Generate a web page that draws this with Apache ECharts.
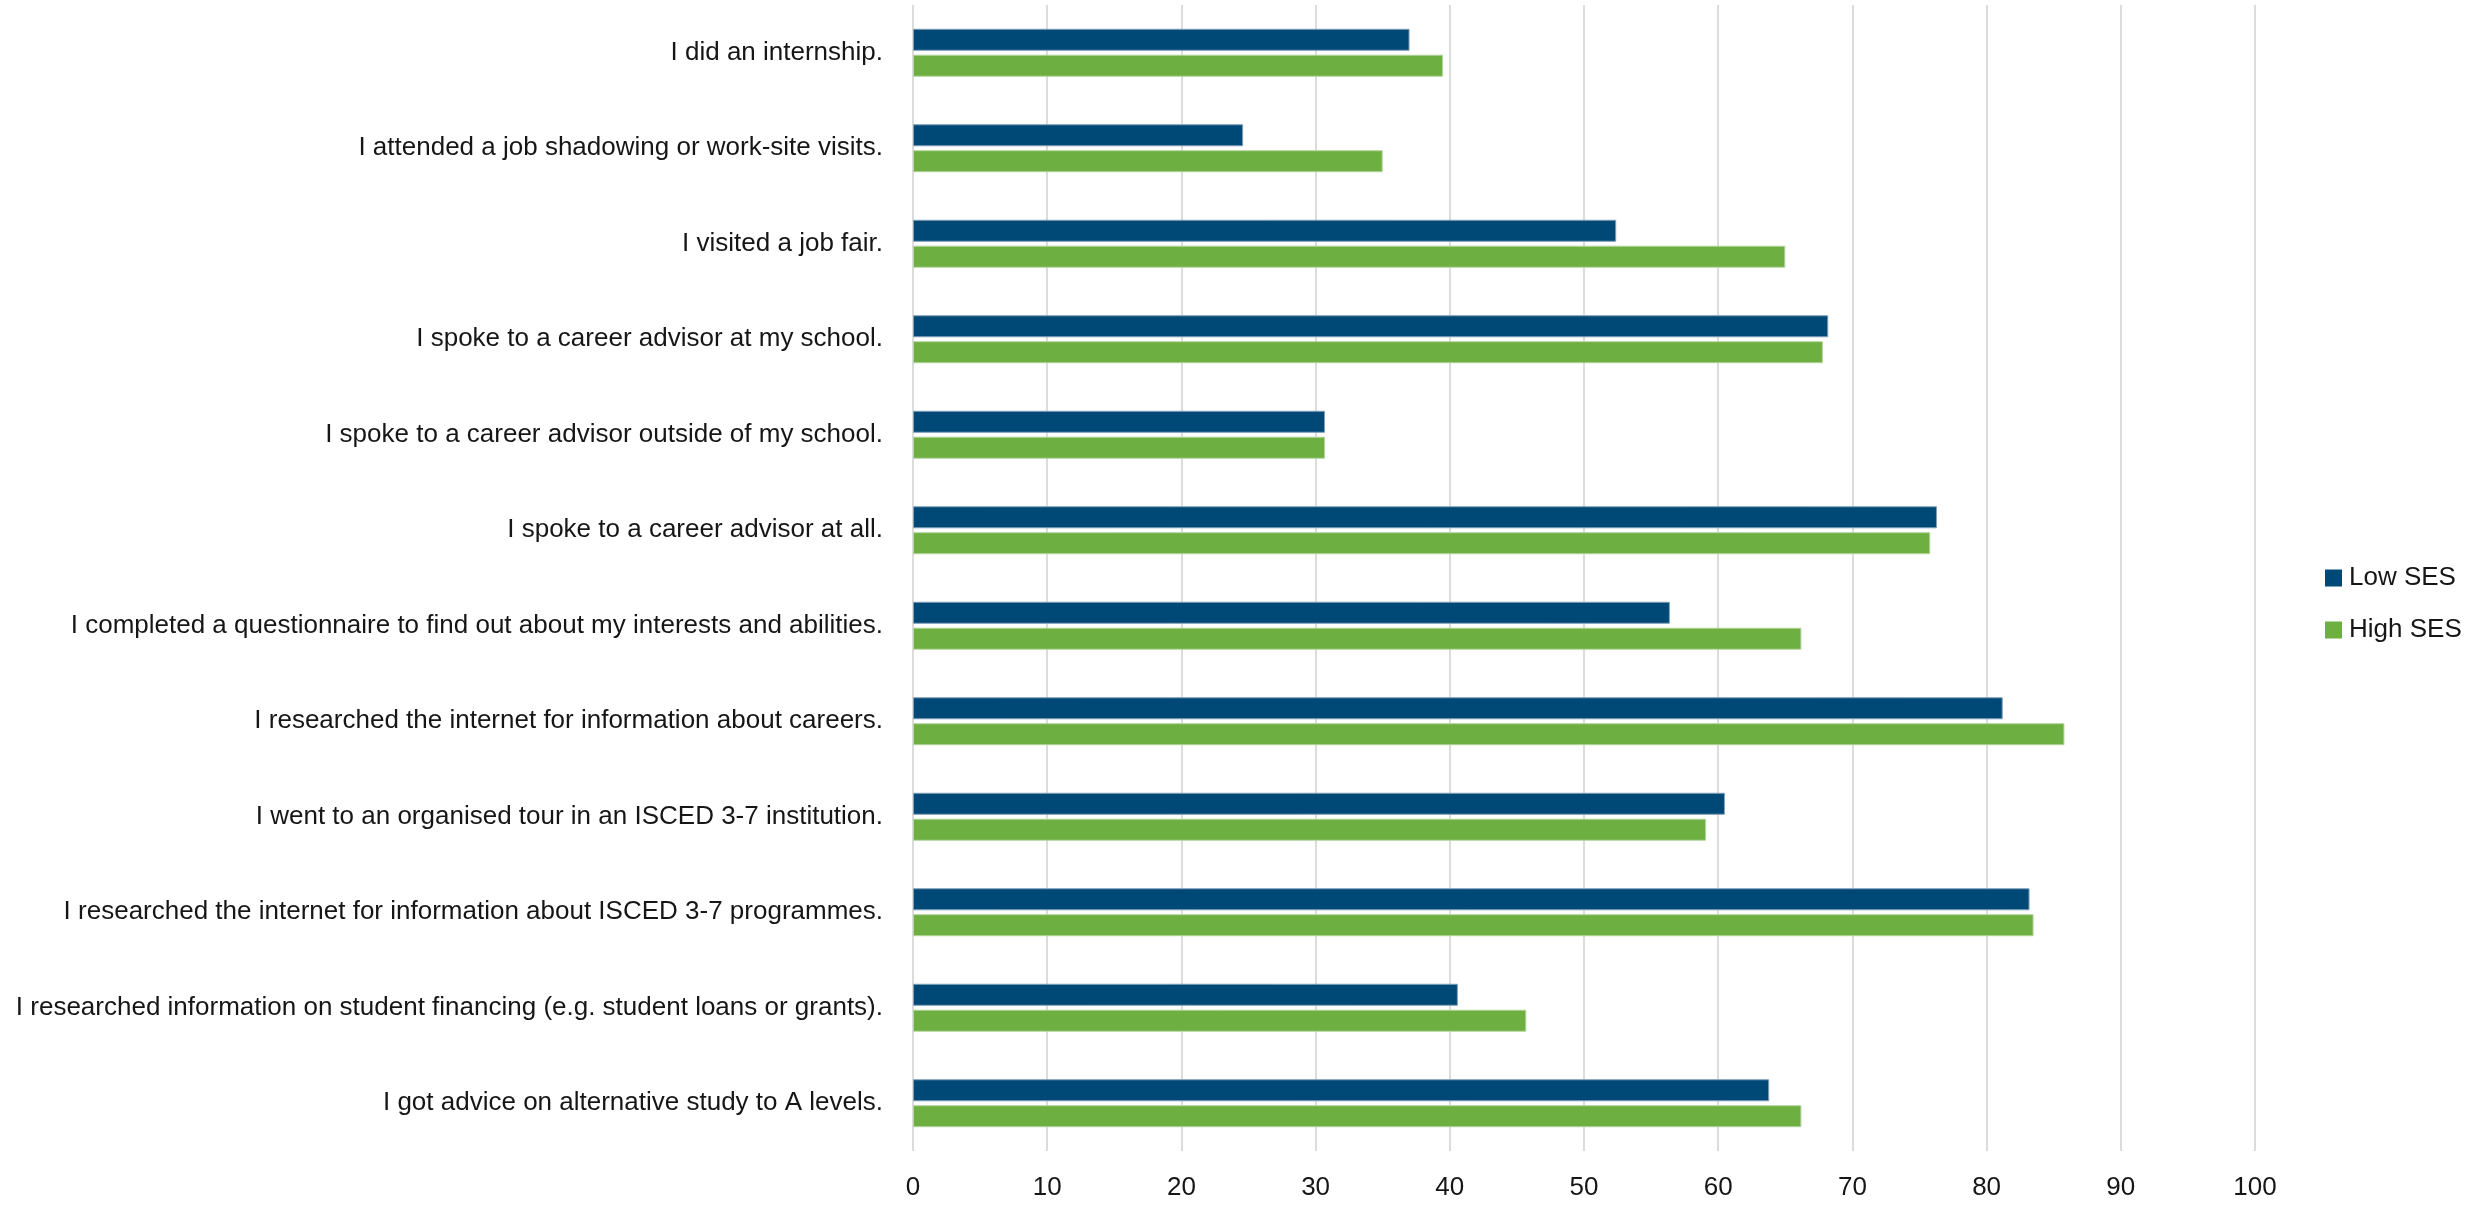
<!DOCTYPE html>
<html>
<head>
<meta charset="utf-8">
<script src="https://cdn.jsdelivr.net/npm/echarts@6/dist/echarts.min.js"></script>
<style>
  html, body { margin: 0; padding: 0; background: #ffffff; }
  #chart { width: 2481px; height: 1205px; }
</style>
</head>
<body>
<div id="chart"></div>
<script>
// Career-guidance activities reported by students, by socio-economic status (%)
const categories = [
  "I did an internship.",
  "I attended a job shadowing or work-site visits.",
  "I visited a job fair.",
  "I spoke to a career advisor at my school.",
  "I spoke to a career advisor outside of my school.",
  "I spoke to a career advisor at all.",
  "I completed a questionnaire to find out about my interests and abilities.",
  "I researched the internet for information about careers.",
  "I went to an organised tour in an ISCED 3-7 institution.",
  "I researched the internet for information about ISCED 3-7 programmes.",
  "I researched information on student financing (e.g. student loans or grants).",
  "I got advice on alternative study to A levels."
];
const lowSES  = [37.0, 24.6, 52.4, 68.2, 30.7, 76.3, 56.4, 81.2, 60.5, 83.2, 40.6, 63.8];
const highSES = [39.5, 35.0, 65.0, 67.8, 30.7, 75.8, 66.2, 85.8, 59.1, 83.5, 45.7, 66.2];
const seriesNames = ["Low SES", "High SES"];

const FONT = '"Liberation Sans", Arial, sans-serif';
const FONT_SIZE = 26;
const TEXT = '#161616';

const chart = echarts.init(document.getElementById('chart'), null, { renderer: 'canvas' });
chart.setOption({
  backgroundColor: '#ffffff',
  animation: false,
  textStyle: { fontFamily: FONT },
  grid: {
    left: 913, top: 5, width: 1342, height: 1146,
    containLabel: false,
    outerBoundsMode: 'none'
  },
  legend: {
    orient: 'vertical',
    left: 2320,
    top: 560,
    itemWidth: 17,
    itemHeight: 17,
    itemGap: 26,
    icon: 'rect',
    data: seriesNames,
    itemStyle: { borderWidth: 0 },
    textStyle: { fontFamily: FONT, fontSize: FONT_SIZE, color: TEXT, padding: [0, 0, 0, 2] }
  },
  xAxis: {
    type: 'value',
    min: 0,
    max: 100,
    interval: 10,
    axisLine: { show: false },
    axisTick: { show: false },
    splitLine: { show: true, lineStyle: { color: '#dcdcdc', width: 2 } },
    axisLabel: { fontFamily: FONT, fontSize: FONT_SIZE, color: TEXT, margin: 24 }
  },
  yAxis: {
    type: 'category',
    inverse: true,
    data: categories,
    axisLine: { show: false },
    axisTick: { show: false },
    axisLabel: { fontFamily: FONT, fontSize: FONT_SIZE, color: TEXT, margin: 30 }
  },
  series: [
    {
      name: seriesNames[0],
      type: 'bar',
      data: lowSES,
      barWidth: 22,
      barGap: '18%',
      itemStyle: { color: '#004977', borderColor: '#7f9fb8', borderWidth: 1 }
    },
    {
      name: seriesNames[1],
      type: 'bar',
      data: highSES,
      barWidth: 22,
      barGap: '18%',
      itemStyle: { color: '#6daf41', borderColor: '#b3d49c', borderWidth: 1 }
    }
  ]
});
</script>
</body>
</html>
